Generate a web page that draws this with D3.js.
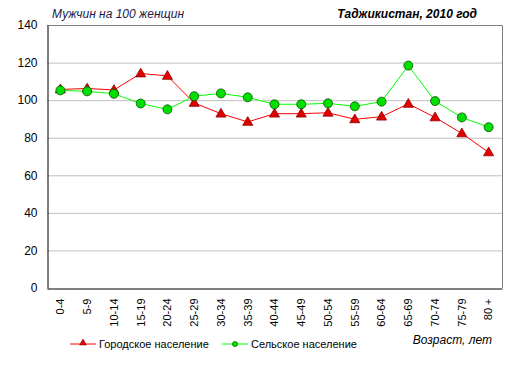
<!DOCTYPE html>
<html>
<head>
<meta charset="utf-8">
<script src="https://cdn.jsdelivr.net/npm/d3@7"></script>
<style>
body { margin: 0; background: #fff; }
text { font-family: "Liberation Sans", Arial, sans-serif; fill: #000; }
</style>
</head>
<body>
<svg id="chart" width="518" height="372"></svg>
<script>
// age groups and values (men per 100 women)
var ageGroups = ["0-4","5-9","10-14","15-19","20-24","25-29","30-34","35-39","40-44","45-49","50-54","55-59","60-64","65-69","70-74","75-79","80 +"];
var urban = [105.7,106.2,105.4,114.2,112.9,98.5,92.8,88.4,92.8,92.8,93.3,89.8,91.2,98.0,90.8,82.3,72.2];
var rural = [105.2,104.7,103.4,98.2,95.1,102.1,103.6,101.5,97.8,97.8,98.3,96.7,99.2,118.4,99.5,90.8,85.6];
var yTicks = [0,20,40,60,80,100,120,140];

var svg = d3.select("#chart");
var plotL = 47, plotR = 502, plotT = 25, plotB = 288;

var x = d3.scaleBand().domain(ageGroups).range([plotL, plotR]);
var y = d3.scaleLinear().domain([0, 140]).range([plotB, plotT]);

// gridlines
svg.append("g").selectAll("line").data(yTicks.slice(1)).enter().append("line")
  .attr("x1", plotL).attr("x2", plotR)
  .attr("y1", function(d){ return y(d) + 0.5; }).attr("y2", function(d){ return y(d) + 0.5; })
  .style("stroke", "#c0c0c0").style("stroke-width", 1);

// frame: top/right gray
svg.append("path")
  .attr("d", "M" + plotL + "," + (plotT + 0.5) + "H" + (plotR + 0.5) + "V" + plotB)
  .style("fill", "none").style("stroke", "#808080").style("stroke-width", 1);

// y axis
var yAxis = svg.append("g").attr("transform", "translate(" + (plotL + 0.5) + ",0)")
  .call(d3.axisLeft(y).tickValues(yTicks).tickSize(0).tickPadding(10));
yAxis.select(".domain").style("stroke", "#000");
yAxis.selectAll("text").style("font-size", "12px").style("font-family", "Liberation Sans, Arial");

// x axis
var xAxis = svg.append("g").attr("transform", "translate(0," + (plotB + 0.5) + ")")
  .call(d3.axisBottom(x).tickSize(0).tickPadding(0));
xAxis.select(".domain").style("stroke", "#000");
xAxis.selectAll("text")
  .style("font-size", "11px").style("font-family", "Liberation Sans, Arial")
  .attr("text-anchor", "end")
  .attr("transform", "rotate(-90)")
  .attr("x", -10).attr("y", 0).attr("dy", "0.35em");

var line = d3.line()
  .x(function(d, i){ return x(ageGroups[i]) + x.bandwidth() / 2; })
  .y(function(d){ return y(d); });

// urban series
svg.append("path").datum(urban).attr("d", line)
  .style("fill", "none").style("stroke", "#ff0000").style("stroke-width", 1);
var tri = d3.symbol().type(d3.symbolTriangle).size(44);
svg.append("g").selectAll("path").data(urban).enter().append("path")
  .attr("d", tri)
  .attr("transform", function(d, i){ return "translate(" + (x(ageGroups[i]) + x.bandwidth() / 2) + "," + (y(d) + 0.5) + ")"; })
  .style("fill", "#e00000").style("stroke", "#900000").style("stroke-width", 0.8);

// rural series
svg.append("path").datum(rural).attr("d", line)
  .style("fill", "none").style("stroke", "#00ff00").style("stroke-width", 1);
svg.append("g").selectAll("circle").data(rural).enter().append("circle")
  .attr("cx", function(d, i){ return x(ageGroups[i]) + x.bandwidth() / 2; })
  .attr("cy", function(d){ return y(d); })
  .attr("r", 4.5)
  .style("fill", "#00e000").style("stroke", "#005000").style("stroke-width", 0.8);

// titles
svg.append("text").attr("x", 52).attr("y", 18)
  .style("font-size", "12px").style("font-style", "italic").style("fill", "#1a1a4a")
  .text("Мужчин на 100 женщин");
svg.append("text").attr("x", 477).attr("y", 18).attr("text-anchor", "end")
  .style("font-size", "12px").style("font-style", "italic").style("font-weight", "bold")
  .text("Таджикистан, 2010 год");
svg.append("text").attr("x", 492).attr("y", 344).attr("text-anchor", "end")
  .style("font-size", "12px").style("font-style", "italic")
  .text("Возраст, лет");

// legend
var legend = [
  {name: "Городское население", color: "#ff0000", x0: 70, type: "tri"},
  {name: "Сельское население", color: "#00ff00", x0: 222, type: "circ"}
];
var lg = svg.append("g").selectAll("g").data(legend).enter().append("g")
  .attr("transform", function(d){ return "translate(" + d.x0 + ",344)"; });
lg.append("line").attr("x1", 0).attr("x2", 26).attr("y1", 0).attr("y2", 0)
  .style("stroke", function(d){ return d.color; }).style("stroke-width", 1);
lg.each(function(d){
  var g = d3.select(this);
  if (d.type == "tri") {
    g.append("path").attr("d", d3.symbol().type(d3.symbolTriangle).size(20))
      .attr("transform", "translate(13,-1)")
      .style("fill", "#e00000").style("stroke", "#900000").style("stroke-width", 0.6);
  } else {
    g.append("circle").attr("cx", 13).attr("cy", 0).attr("r", 2.6)
      .style("fill", "#00e000").style("stroke", "#005000").style("stroke-width", 0.6);
  }
});
lg.append("text").attr("x", 29).attr("y", 4)
  .style("font-size", "11px")
  .text(function(d){ return d.name; });
</script>
</body>
</html>
